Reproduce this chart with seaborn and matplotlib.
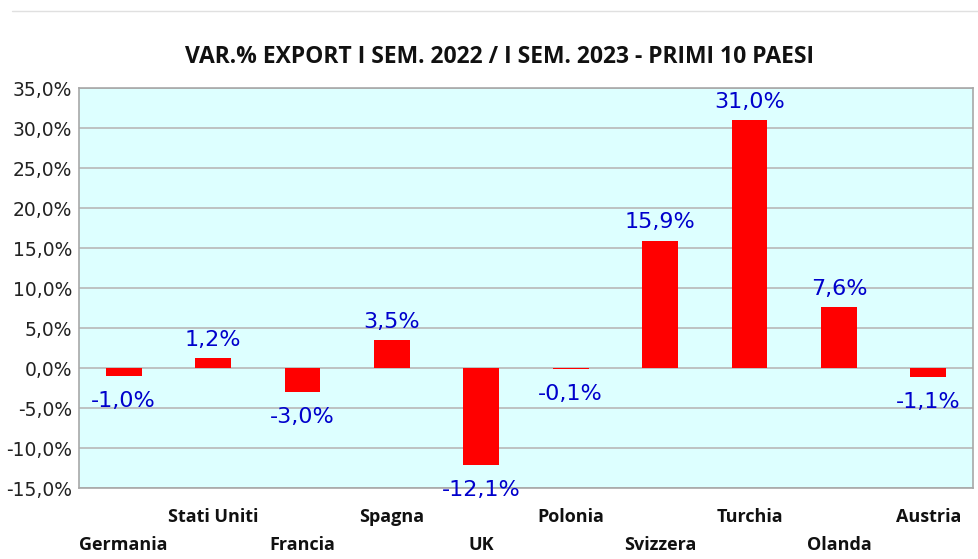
import matplotlib
matplotlib.use("Agg")
import matplotlib.pyplot as plt
import seaborn as sns
import pandas as pd
from matplotlib.transforms import blended_transform_factory

countries = ["Germania", "Stati Uniti", "Francia", "Spagna", "UK", "Polonia",
             "Svizzera", "Turchia", "Olanda", "Austria"]
values = [-1.0, 1.2, -3.0, 3.5, -12.1, -0.1, 15.9, 31.0, 7.6, -1.1]
yticks = [-15, -10, -5, 0, 5, 10, 15, 20, 25, 30, 35]
title = "VAR.% EXPORT I SEM. 2022 / I SEM. 2023 - PRIMI 10 PAESI"

sns.set_theme(style="white")
plt.rcParams['font.family'] = ['Open Sans', 'DejaVu Sans']

df = pd.DataFrame({"paese": countries, "var": values})

fig = plt.figure(figsize=(9.79, 5.59), dpi=100)
ax = fig.add_axes([79/979, 1-488/559, (973-79)/979, (488-88)/559])
ax.set_facecolor("#DDFFFF")
sns.barplot(data=df, x="paese", y="var", color="#FF0000", width=0.4,
            saturation=1, linewidth=0, edgecolor="none", ax=ax, zorder=3)
ax.set_ylim(-15, 35)
ax.set_xlim(-0.5, len(countries) - 0.5)
ax.set_yticks(yticks)
ax.set_yticklabels([f"{v:.1f}%".replace(".", ",") for v in yticks],
                   fontsize=13.5, color="#222222", family="DejaVu Sans")
ax.grid(axis="y", color="#B8B8B8", linewidth=1.2, zorder=0)
ax.set_axisbelow(True)
ax.tick_params(axis="y", length=0, pad=5)
ax.tick_params(axis="x", length=0)
ax.set_xticks(range(len(countries)))
ax.set_xticklabels([])
ax.set_xlabel("")
ax.set_ylabel("")
for s in ax.spines.values():
    s.set_color("#A8A8A8")
    s.set_linewidth(1.2)

for i, v in enumerate(values):
    lab = f"{v:.1f}%".replace(".", ",")
    if v >= 0:
        ax.annotate(lab, (i, v), xytext=(0, 6), textcoords="offset points",
                    ha="center", va="bottom", fontsize=16, color="#0000CC",
                    family="DejaVu Sans")
    else:
        ax.annotate(lab, (i, v), xytext=(0, -11), textcoords="offset points",
                    ha="center", va="top", fontsize=16, color="#0000CC",
                    family="DejaVu Sans")

trans = blended_transform_factory(ax.transData, fig.transFigure)
for i, c in enumerate(countries):
    ypix = 545 if i % 2 == 0 else 517
    ax.text(i, 1 - ypix/559, c, transform=trans, ha="center", va="center",
            fontsize=13, fontweight="bold", color="#111111")

fig.text(500/979, 1 - 57/559, title, ha="center", va="center",
         fontsize=16.5, fontweight="bold", color="#111111")
fig.add_artist(plt.Line2D([12/979, 1], [1-11/559, 1-11/559],
                          transform=fig.transFigure, color="#E0E0E0", linewidth=1))

fig.savefig("out.png", dpi=100)
